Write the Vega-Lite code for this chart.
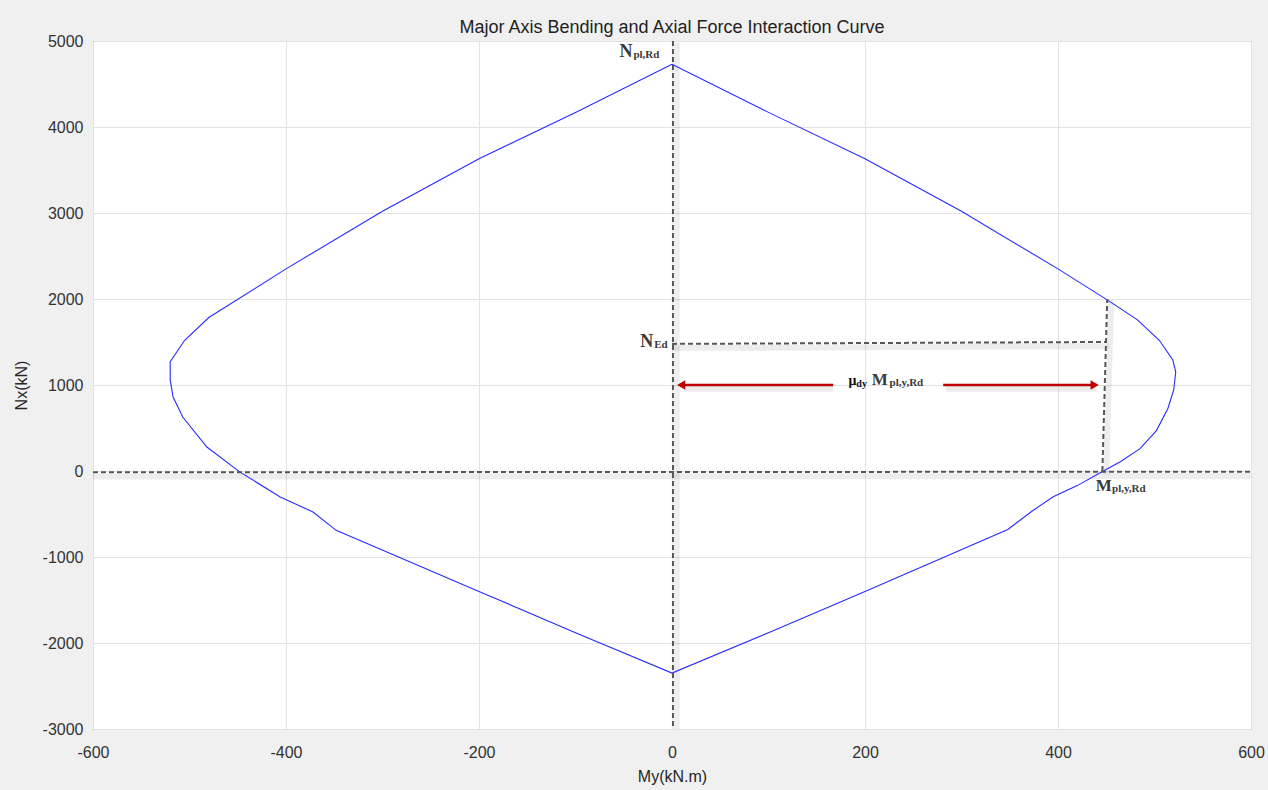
{
  "$schema": "https://vega.github.io/schema/vega-lite/v6.json",
  "width": 1158,
  "height": 688,
  "autosize": {"type": "none"},
  "padding": {"left": 93, "top": 41, "right": 17, "bottom": 61},
  "background": "#f0f0f0",
  "title": {"text": "Major Axis Bending and Axial Force Interaction Curve", "font": "Liberation Sans", "fontSize": 18, "fontWeight": "normal", "color": "#222222", "offset": -6},
  "datasets": {
    "curve": [
      {"i": 1, "x": 0, "y": 4730},
      {"i": 2, "x": 100, "y": 4170},
      {"i": 3, "x": 200, "y": 3630},
      {"i": 4, "x": 300, "y": 3020},
      {"i": 5, "x": 400, "y": 2350},
      {"i": 6, "x": 451, "y": 1990},
      {"i": 7, "x": 482, "y": 1760},
      {"i": 8, "x": 505, "y": 1520},
      {"i": 9, "x": 519, "y": 1290},
      {"i": 10, "x": 522, "y": 1150},
      {"i": 11, "x": 520, "y": 950},
      {"i": 12, "x": 514, "y": 730},
      {"i": 13, "x": 502, "y": 470},
      {"i": 14, "x": 485, "y": 260},
      {"i": 15, "x": 465, "y": 110},
      {"i": 16, "x": 447, "y": 0},
      {"i": 17, "x": 420, "y": -170},
      {"i": 18, "x": 395, "y": -300},
      {"i": 19, "x": 374, "y": -460},
      {"i": 20, "x": 348, "y": -680},
      {"i": 21, "x": 200, "y": -1400},
      {"i": 22, "x": 100, "y": -1880},
      {"i": 23, "x": 0, "y": -2350},
      {"i": 24, "x": -100, "y": -1880},
      {"i": 25, "x": -200, "y": -1400},
      {"i": 26, "x": -348, "y": -690},
      {"i": 27, "x": -372, "y": -477},
      {"i": 28, "x": -406, "y": -302},
      {"i": 29, "x": -448, "y": -10},
      {"i": 30, "x": -482, "y": 279},
      {"i": 31, "x": -507, "y": 628},
      {"i": 32, "x": -517, "y": 860},
      {"i": 33, "x": -520, "y": 1060},
      {"i": 34, "x": -520, "y": 1270},
      {"i": 35, "x": -505, "y": 1520},
      {"i": 36, "x": -480, "y": 1785},
      {"i": 37, "x": -400, "y": 2350},
      {"i": 38, "x": -300, "y": 3020},
      {"i": 39, "x": -200, "y": 3630},
      {"i": 40, "x": -100, "y": 4170},
      {"i": 41, "x": 0, "y": 4730}
    ],
    "dashed": [
      {"id": "v0", "x": 1, "y": 5000},
      {"id": "v0", "x": 1, "y": -3000},
      {"id": "h0", "x": -600, "y": -15},
      {"id": "h0", "x": 600, "y": -8},
      {"id": "v450", "x": 451, "y": 2000},
      {"id": "v450", "x": 446, "y": 0},
      {"id": "hEd", "x": 0, "y": 1478},
      {"id": "hEd", "x": 449, "y": 1500}
    ],
    "shadow": [
      {"id": "v0", "x": 5, "y": 4980},
      {"id": "v0", "x": 5, "y": -3000},
      {"id": "h0", "x": -600, "y": -65},
      {"id": "h0", "x": 600, "y": -58},
      {"id": "v450", "x": 455, "y": 1990},
      {"id": "v450", "x": 450, "y": -40},
      {"id": "hEd", "x": 2, "y": 1430},
      {"id": "hEd", "x": 453, "y": 1452},
      {"id": "a1", "x": 167, "y": 955},
      {"id": "a1", "x": 12, "y": 955},
      {"id": "a2", "x": 284, "y": 955},
      {"id": "a2", "x": 440, "y": 955}
    ],
    "arrows": [
      {"id": "left", "x": 167, "y": 1000},
      {"id": "left", "x": 12, "y": 1000},
      {"id": "right", "x": 281, "y": 1000},
      {"id": "right", "x": 436, "y": 1000}
    ],
    "heads": [
      {"dir": "left", "x": 9.5, "y": 1000},
      {"dir": "right", "x": 438, "y": 1000}
    ],
    "mainRight": [
      {"x": -41, "y": 4815, "t": "N"},
      {"x": -19.5, "y": 1442, "t": "N"}
    ],
    "mainLeft": [
      {"x": 207, "y": 1000, "t": "M"},
      {"x": 439, "y": -233, "t": "M"}
    ],
    "subs": [
      {"x": -40, "y": 4800, "t": "pl,Rd"},
      {"x": -18.5, "y": 1430, "t": "Ed"},
      {"x": 225.5, "y": 988, "t": "pl,y,Rd"},
      {"x": 456, "y": -245, "t": "pl,y,Rd"}
    ],
    "mu": [
      {"x": 183, "y": 1000, "t": "μ"}
    ],
    "musub": [
      {"x": 191, "y": 980, "t": "dy"}
    ]
  },
  "encoding": {
    "x": {"field": "x", "type": "quantitative", "scale": {"domain": [-600, 600], "nice": false, "zero": false},
      "axis": {"title": "My(kN.m)", "values": [-600, -400, -200, 0, 200, 400, 600], "labelExpr": "datum.value + ''", "labelFlush": false, "labelPadding": 15, "titlePadding": 8}},
    "y": {"field": "y", "type": "quantitative", "scale": {"domain": [-3000, 5000], "nice": false, "zero": false},
      "axis": {"title": "Nx(kN)", "values": [-3000, -2000, -1000, 0, 1000, 2000, 3000, 4000, 5000], "labelExpr": "datum.value + ''", "labelFlush": false, "labelPadding": 10, "titlePadding": 13}}
  },
  "layer": [
    {"data": {"name": "shadow"}, "mark": {"type": "line", "stroke": "#000000", "strokeWidth": 6, "opacity": 0.07}, "encoding": {"detail": {"field": "id"}}},
    {"data": {"name": "curve"}, "mark": {"type": "line", "stroke": "#2a2aff", "strokeWidth": 1.1}, "encoding": {"order": {"field": "i", "type": "quantitative"}}},
    {"data": {"name": "dashed"}, "mark": {"type": "line", "stroke": "#555555", "strokeWidth": 2, "strokeDash": [5, 3]}, "encoding": {"detail": {"field": "id"}}},
    {"data": {"name": "arrows"}, "mark": {"type": "line", "stroke": "#c00000", "strokeWidth": 2.5}, "encoding": {"detail": {"field": "id"}}},
    {"data": {"name": "heads"}, "mark": {"type": "point", "filled": true, "color": "#c00000", "size": 90, "opacity": 1}, "encoding": {"shape": {"field": "dir", "type": "nominal", "scale": {"domain": ["left", "right"], "range": ["triangle-left", "triangle-right"]}, "legend": null}}},
    {"data": {"name": "mainRight"}, "mark": {"type": "text", "align": "right", "baseline": "alphabetic", "font": "Liberation Serif", "fontWeight": "bold", "fontSize": 18, "color": "#3a3a3a"}, "encoding": {"text": {"field": "t"}}},
    {"data": {"name": "mainLeft"}, "mark": {"type": "text", "align": "left", "baseline": "alphabetic", "font": "Liberation Serif", "fontWeight": "bold", "fontSize": 17, "color": "#3a3a3a"}, "encoding": {"text": {"field": "t"}}},
    {"data": {"name": "subs"}, "mark": {"type": "text", "align": "left", "baseline": "alphabetic", "font": "Liberation Serif", "fontWeight": "bold", "fontSize": 11, "color": "#3a3a3a"}, "encoding": {"text": {"field": "t"}}},
    {"data": {"name": "mu"}, "mark": {"type": "text", "align": "left", "baseline": "alphabetic", "font": "Liberation Serif", "fontWeight": "bold", "fontSize": 14, "color": "#111111"}, "encoding": {"text": {"field": "t"}}},
    {"data": {"name": "musub"}, "mark": {"type": "text", "align": "left", "baseline": "alphabetic", "font": "Liberation Serif", "fontWeight": "bold", "fontSize": 10, "color": "#111111"}, "encoding": {"text": {"field": "t"}}}
  ],
  "config": {
    "view": {"fill": "white", "stroke": "#262626", "strokeWidth": 1},
    "axis": {"labelFont": "Liberation Sans", "labelFontSize": 16, "labelColor": "#333333", "titleFont": "Liberation Sans", "titleFontSize": 16, "titleFontWeight": "normal", "titleColor": "#262626", "gridColor": "#e3e3e3", "domain": false, "ticks": false}
  }
}
